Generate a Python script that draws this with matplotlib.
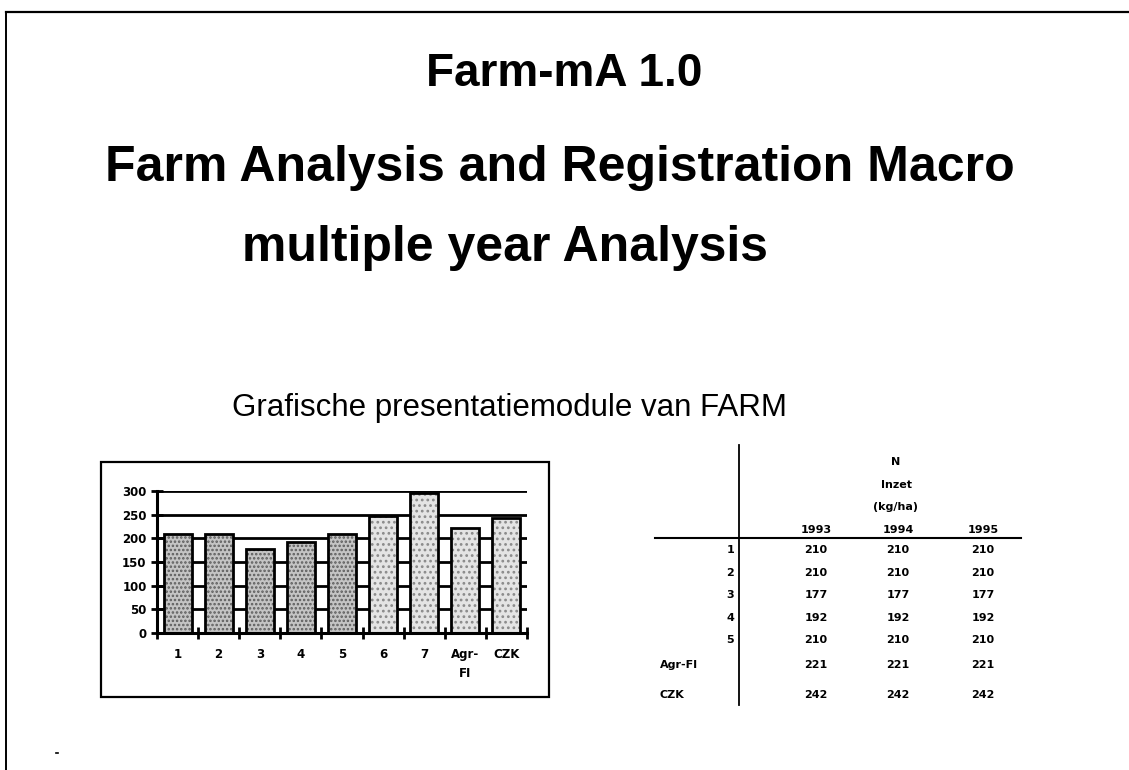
import numpy as np
import matplotlib
matplotlib.use("Agg")
from matplotlib import pyplot as plt
from matplotlib.patches import Rectangle
from matplotlib.lines import Line2D

# data
categories = ["1", "2", "3", "4", "5", "6", "7", "Agr-\nFI", "CZK"]
n_values = [210, 210, 177, 192, 210, 248, 295, 221, 242]
y_ticks = [0, 50, 100, 150, 200, 250, 300]

table_rows = ["1", "2", "3", "4", "5", "Agr-FI", "CZK"]
table_years = ["1993", "1994", "1995"]
n_1993 = [210, 210, 177, 192, 210, 221, 242]
n_1994 = [210, 210, 177, 192, 210, 221, 242]
n_1995 = [210, 210, 177, 192, 210, 221, 242]
table_header = ["N", "Inzet", "(kg/ha)"]

W, H = 1129, 770


def fx(x):
    return x / W


def fy(y):
    return 1 - y / H


fig = plt.figure(figsize=(W / 100, H / 100), dpi=100)
fig.patch.set_facecolor("white")

# slide border (top and left edge of the scan)
fig.add_artist(Line2D([fx(6), fx(1129)], [fy(12), fy(12)], color="black", lw=1.6))
fig.add_artist(Line2D([fx(6), fx(6)], [fy(12), fy(770)], color="black", lw=1.4))
fig.add_artist(Line2D([fx(56), fx(58)], [fy(753), fy(753)], color="black", lw=1.2))

# titles
title_font = ["Liberation Sans", "DejaVu Sans"]
fig.text(fx(564), fy(86), "Farm-mA 1.0", ha="center", va="baseline",
         fontsize=33, fontweight="bold", family=title_font)
fig.text(fx(560), fy(181), "Farm Analysis and Registration Macro", ha="center",
         va="baseline", fontsize=36, fontweight="bold", family=title_font)
fig.text(fx(505), fy(261), "multiple year Analysis", ha="center", va="baseline",
         fontsize=36, fontweight="bold", family=title_font)
fig.text(fx(509), fy(416), "Grafische presentatiemodule van FARM", ha="center",
         va="baseline", fontsize=22.5, family=title_font)

# box around the bar chart
fig.add_artist(Rectangle((fx(101), fy(697)), fx(549) - fx(101), fy(462) - fy(697),
                         transform=fig.transFigure, fill=False, ec="black", lw=1.6))

# bar chart
ax = fig.add_axes([fx(157), fy(633), fx(527) - fx(157), fy(491) - fy(633)])
x = np.arange(len(categories))
plt.rcParams["hatch.linewidth"] = 1.2
fill = ax.bar(x, n_values, width=0.68, lw=0, zorder=2)
for i, patch in enumerate(fill):
    if i < 5:
        patch.set_facecolor("#c4c4c4")
        patch.set_edgecolor("#5c5c5c")
        patch.set_hatch("....")
    else:
        patch.set_facecolor("#e4e4e4")
        patch.set_edgecolor("#8a8a8a")
        patch.set_hatch("...")
ax.bar(x, n_values, width=0.68, color="none", edgecolor="black", lw=2, zorder=3)

ax.set_xlim(-0.5, len(categories) - 0.5)
ax.set_ylim(0, 300)
ax.set_yticks(y_ticks)
ax.set_yticklabels([str(v) for v in y_ticks], fontsize=8.5, fontweight="bold")
ax.set_xticks(x)
ax.set_xticklabels(categories, fontsize=8.5, fontweight="bold", linespacing=1.6)
ax.set_xticks(np.arange(len(categories) + 1) - 0.5, minor=True)
ax.tick_params(axis="x", which="major", length=0, pad=11)
ax.tick_params(axis="x", which="minor", direction="inout", length=9, width=2)
ax.tick_params(axis="y", direction="inout", length=9, width=2, pad=3)
ax.yaxis.grid(True, color="black", lw=2, zorder=1)
ax.set_axisbelow(True)
for side in ["top", "right"]:
    ax.spines[side].set_visible(False)
for side in ["left", "bottom"]:
    ax.spines[side].set_linewidth(2.2)
    ax.spines[side].set_zorder(4)

# table to the right
tab_font = dict(fontsize=8, fontweight="bold", family="DejaVu Sans")
fig.add_artist(Line2D([fx(739), fx(739)], [fy(445), fy(705)], color="black", lw=1.3))
fig.add_artist(Line2D([fx(655), fx(1021)], [fy(538), fy(538)], color="black", lw=1.5))

header_y = [462, 485, 507]
for label, yy in zip(table_header, header_y):
    fig.text(fx(896), fy(yy), label, ha="center", va="center", **tab_font)

col_x = [816, 898, 983]
for label, xx in zip(table_years, col_x):
    fig.text(fx(xx), fy(530), label, ha="center", va="center", **tab_font)

row_y = [550, 573, 595, 618, 640, 665, 695]
columns = [n_1993, n_1994, n_1995]
for i, (row, yy) in enumerate(zip(table_rows, row_y)):
    if row.isdigit():
        fig.text(fx(734), fy(yy), row, ha="right", va="center", **tab_font)
    else:
        fig.text(fx(660), fy(yy), row, ha="left", va="center", **tab_font)
    for col, xx in zip(columns, col_x):
        fig.text(fx(xx), fy(yy), str(col[i]), ha="center", va="center", **tab_font)

fig.savefig("out.png", dpi=100)
